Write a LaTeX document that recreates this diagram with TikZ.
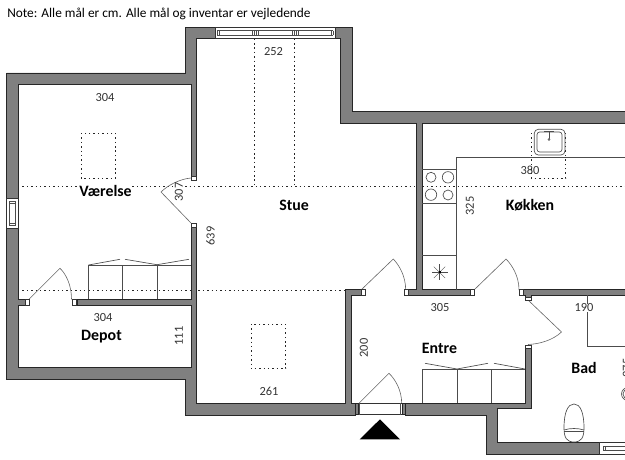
\documentclass[tikz,border=0pt]{standalone}
\usepackage{fontspec}
\setmainfont{Carlito}
\tikzset{
  wall/.style={draw=black!85,line width=0.5pt,fill=black!50},
  fixture/.style={draw=black!70,line width=0.5pt},
  doorleaf/.style={draw=black!60,line width=0.45pt},
  dotline/.style={draw=black!85,line width=0.55pt,dash pattern=on 1.1pt off 2.2pt},
  jamb/.style={draw=black!80,line width=0.4pt,fill=white},
  measure/.style={font=\fontsize{9.3}{11}\selectfont,text=black!80,inner sep=0pt},
  room/.style={font=\fontsize{11.9}{14}\selectfont\bfseries,inner sep=0pt},
}
\begin{document}
\begin{tikzpicture}[x=0.75pt,y=-0.75pt]
  \useasboundingbox (0,0) rectangle (625,460);

  % dotted lines
  \draw[dotline] (18,186.5) -- (416.7,186.5);
  \draw[dotline] (422.3,186.5) -- (625,186.5);
  \draw[dotline] (18,290) -- (345.7,290);
  \draw[dotline] (254.7,38.7) -- (254.7,186.5);
  \draw[dotline] (294.3,38.7) -- (294.3,186.5);
  \draw[dotline] (81,133) rectangle (115.5,178);
  \draw[dotline] (251,324) rectangle (285.7,368.7);
  \draw[dotline] (531.3,133) -- (531.3,178) -- (565.7,178) -- (565.7,133);

  % walls
  \draw[wall] (6.5,198) -- (6.5,73) -- (185.5,73) -- (185.5,27.3) -- (215,27.3) -- (215,38.7)
    -- (196.7,38.7) -- (196.7,178) -- (191,178) -- (191,84.5) -- (18,84.5) -- (18,198) -- cycle;
  \draw[wall] (6.5,228) -- (6.5,379.3) -- (185.3,379.3) -- (185.3,415) -- (355,415) -- (355,403.3)
    -- (351,403.3) -- (351,295) -- (361,295) -- (361,289.3) -- (345.7,289.3) -- (345.7,403.3)
    -- (196.7,403.3) -- (196.7,223) -- (191,223) -- (191,299.3) -- (77,299.3) -- (77,305)
    -- (191,305) -- (191,367.7) -- (18,367.7) -- (18,305) -- (25,305) -- (25,299.3) -- (18,299.3)
    -- (18,228) -- cycle;
  \draw[wall] (335,27.3) -- (352,27.3) -- (352,111.7) -- (625,111.7) -- (625,123.3) -- (422.3,123.3)
    -- (422.3,289.3) -- (474,289.3) -- (474,295) -- (408,295) -- (408,289.3) -- (416.7,289.3)
    -- (416.7,123.3) -- (340.3,123.3) -- (340.3,38.7) -- (335,38.7) -- cycle;
  \draw[wall] (522,289.5) -- (625,289.5) -- (625,295) -- (531,295) -- (531,300) -- (525,300)
    -- (525,295) -- (522,295) -- cycle;
  \draw[wall] (405,403.3) -- (525,403.3) -- (525,345) -- (531,345) -- (531,408.5) -- (497,408.5)
    -- (497,442.7) -- (599,442.7) -- (599,454) -- (486,454) -- (486,415) -- (405,415) -- cycle;

  % windows
  \draw[jamb] (215,27.3) rectangle (335,38.7);
  \draw[fixture] (217,30.7) -- (333,30.7) (217,35) -- (333,35);
  \foreach \x in {217,219,252,254,256,258,292,294,296,298,331,333} \draw[fixture,line width=0.35pt] (\x,30.7) -- (\x,35);
  \draw[jamb] (6.5,198) rectangle (18,228);
  \draw[fixture] (9.5,201) -- (9.5,225) (15,201) -- (15,225);
  \draw[fixture] (9,201) -- (15.5,201) (9,203) -- (15.5,203) (9,223) -- (15.5,223) (9,225) -- (15.5,225);
  \draw[jamb] (599,442.7) rectangle (625,454);
  \draw[fixture] (603,446.5) -- (625,446.5) (603,450.5) -- (625,450.5) (603,446.5) -- (603,450.5) (605,446.5) -- (605,450.5);

  % doors
  \draw[doorleaf] (191,223) -- (161,192) .. controls (168,185) and (180,179) .. (191,178);
  \draw[doorleaf] (29,299.3) -- (60,268.3) .. controls (66,274) and (71.5,285) .. (71.5,299.3);
  \draw[doorleaf] (361,290) -- (393.3,259) .. controls (399,265) and (405.7,276) .. (405.7,290);
  \draw[doorleaf] (474,290) -- (506,259) .. controls (512,265) and (519,276) .. (519,290);
  \draw[doorleaf] (528,300) -- (561.5,332) .. controls (553,340) and (540,344) .. (528,344.5);
  \draw[doorleaf] (359,403.3) -- (389,373.3) .. controls (395,379) and (401.7,390) .. (401.7,403.3);

  % door jambs
  \draw[jamb] (191,176) rectangle (196.7,180);
  \draw[jamb] (191,223) rectangle (196.7,227);
  \draw[jamb] (25,299.3) rectangle (29.5,305);
  \draw[jamb] (72,299.3) rectangle (76.5,305);
  \draw[jamb] (361,289.3) rectangle (365,295);
  \draw[jamb] (404,289.3) rectangle (408,295);
  \draw[jamb] (470,289.3) rectangle (474,295);
  \draw[jamb] (519,289.5) rectangle (523,295);
  \draw[jamb] (525,297) rectangle (531,300.5);
  \draw[jamb] (525,345) rectangle (531,348.5);

  % entrance
  \draw[jamb] (355,403.3) rectangle (405,414.7);
  \draw[wall] (355,403.3) rectangle (358,414.7) (402,403.3) rectangle (405,414.7);
  \draw[fixture] (359.5,403.3) -- (359.5,414.7) (400.5,403.3) -- (400.5,414.7);
  \fill[black] (380,419.3) -- (400,439.3) -- (359.7,439.3) -- cycle;

  % wardrobes
  \draw[fixture] (88.5,299.3) -- (88.5,265) -- (191,265);
  \draw[fixture] (122.5,265) -- (122.5,299.3) (157,265) -- (157,299.3);
  \draw[fixture] (88.5,265) -- (120,259.3) (125,259.3) -- (157,264.7) -- (189,259.3);
  \draw[fixture] (422.7,403.3) -- (422.7,369) -- (525,369);
  \draw[fixture] (457,369) -- (457,403.3) (491,369) -- (491,403.3);
  \draw[fixture] (425,363.3) -- (457,369) -- (488,363.3) (494,363.3) -- (525,369);

  % kitchen
  \draw[fixture] (422.3,169) -- (456.7,169) (456.7,290) -- (456.7,157.7) -- (625,157.7);
  \draw[fixture] (422.3,203.3) -- (456.7,203.3) (422.3,255) -- (456.7,255);
  \draw[fixture] (431,177.3) circle (5) (448,177.3) circle (5.7);
  \draw[fixture] (431,194.7) circle (5.7) (448,195) circle (5);
  \foreach \a in {0,45,...,315} \draw[fixture,line width=0.3pt] (439.5,272.3) -- ++(\a:8);
  \fill[black] (438.5,271.3) rectangle (440.5,273.3);
  \draw[fixture,rounded corners=3pt] (534.3,129.3) rectangle (565,155);
  \draw[fixture,rounded corners=2pt] (537,132) rectangle (562,152);
  \draw[fixture] (544,131) -- (554,131) (549,131) -- (549,139);
  \draw[fixture,fill=white] (549,139.5) circle (1);

  % bath
  \draw[fixture] (587.7,295) -- (587.7,346) -- (625,346);
  \draw[fixture] (564,428) .. controls (564,412) and (568,404) .. (574,404)
    .. controls (580,404) and (584,412) .. (584,428) .. controls (584,438) and (581,442) .. (574,442)
    .. controls (567,442) and (564,438) .. (564,428) -- cycle;
  \draw[fixture] (564,430) .. controls (570,428) and (578,428) .. (584,430);
  \draw[fixture] (564,431.5) -- (584,431.5);
  \draw[fixture] (628,394) circle (6.5) (628,394) circle (5);

  % labels
  \node[measure] (mVaerelse) at (105,98) {304};
  \node[measure,rotate=90,fill=white] (mDoor) at (179,192) {307};
  \node[measure] (mStueTop) at (273.5,52) {252};
  \node[measure,rotate=90] (mStue) at (210.5,236) {639};
  \node[measure] (mStueBot) at (269,391) {261};
  \node[measure] (mKitchen) at (530,170.5) {380};
  \node[measure,rotate=90] (mCounter) at (470,206) {325};
  \node[measure] (mEntre) at (440,308) {305};
  \node[measure,rotate=90] (mEntreSide) at (364,348) {200};
  \node[measure,fill=white] (mBad) at (584,308) {190};
  \node[measure] (mDepot) at (103,318) {304};
  \node[measure,rotate=90] (mDepotSide) at (179,336) {111};
  \node[measure,rotate=90] (mBadSide) at (627,368) {375};
  \node[room,fill=white] (vaerelse) at (105.5,191) {Værelse};
  \node[room] (stue) at (294,205) {Stue};
  \node[room] (koekken) at (530,205) {Køkken};
  \node[room] (entre) at (439.5,348) {Entre};
  \node[room] (bad) at (584,368) {Bad};
  \node[room] (depot) at (101.5,337) {Depot};
  \node[font=\fontsize{10}{12}\selectfont,anchor=west,inner sep=0pt] (note) at (7,14)
    {Note: Alle mål er cm. Alle mål og inventar er vejledende};
\end{tikzpicture}
\end{document}
